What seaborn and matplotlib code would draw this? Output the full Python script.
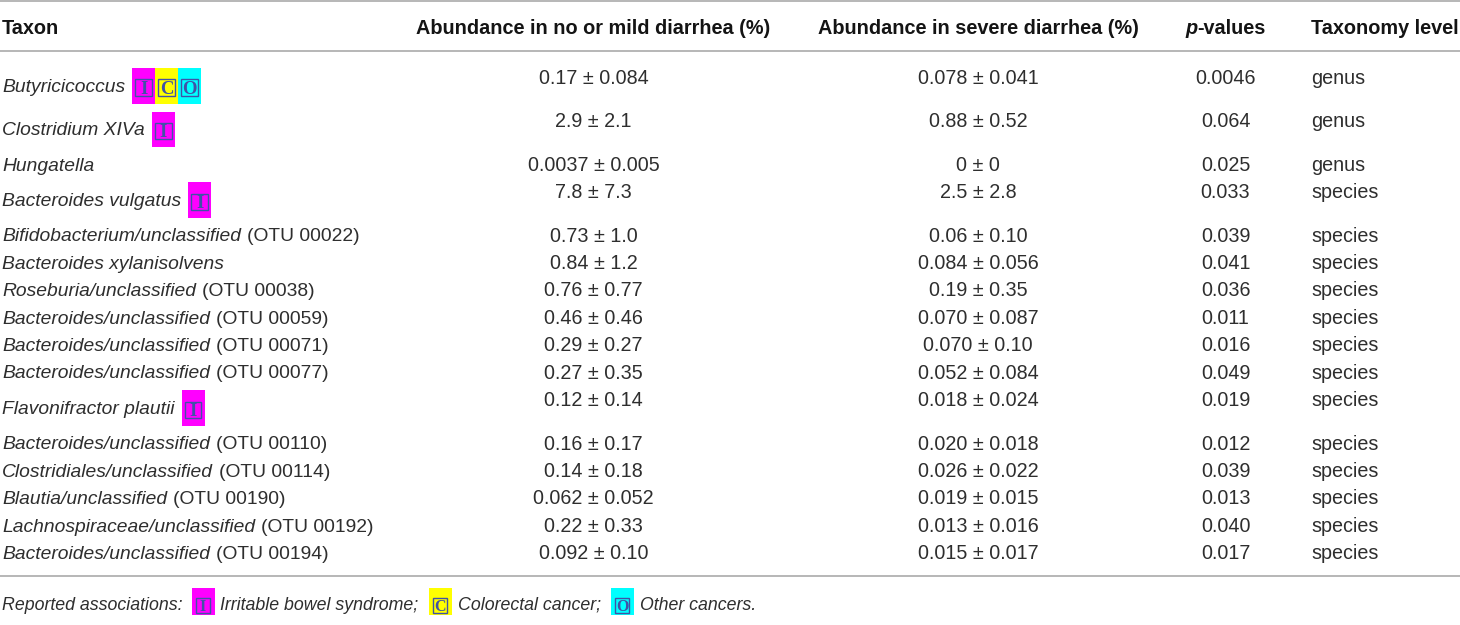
import matplotlib
matplotlib.use("Agg")
import matplotlib.pyplot as plt
import seaborn as sns
from matplotlib.patches import Rectangle

# ---------------- data ----------------
headers = ["Taxon", "Abundance in no or mild diarrhea (%)",
           "Abundance in severe diarrhea (%)", "p", "-values", "Taxonomy level"]
taxa_italic = ["Butyricicoccus", "Clostridium XIVa", "Hungatella", "Bacteroides vulgatus",
               "Bifidobacterium/unclassified", "Bacteroides xylanisolvens",
               "Roseburia/unclassified", "Bacteroides/unclassified",
               "Bacteroides/unclassified", "Bacteroides/unclassified",
               "Flavonifractor plautii", "Bacteroides/unclassified",
               "Clostridiales/unclassified", "Blautia/unclassified",
               "Lachnospiraceae/unclassified", "Bacteroides/unclassified"]
taxa_otu = ["", "", "", "", "(OTU 00022)", "", "(OTU 00038)", "(OTU 00059)",
            "(OTU 00071)", "(OTU 00077)", "", "(OTU 00110)", "(OTU 00114)",
            "(OTU 00190)", "(OTU 00192)", "(OTU 00194)"]
mild = ["0.17 ± 0.084", "2.9 ± 2.1", "0.0037 ± 0.005", "7.8 ± 7.3", "0.73 ± 1.0",
        "0.84 ± 1.2", "0.76 ± 0.77", "0.46 ± 0.46", "0.29 ± 0.27", "0.27 ± 0.35",
        "0.12 ± 0.14", "0.16 ± 0.17", "0.14 ± 0.18", "0.062 ± 0.052",
        "0.22 ± 0.33", "0.092 ± 0.10"]
severe = ["0.078 ± 0.041", "0.88 ± 0.52", "0 ± 0", "2.5 ± 2.8", "0.06 ± 0.10",
          "0.084 ± 0.056", "0.19 ± 0.35", "0.070 ± 0.087", "0.070 ± 0.10",
          "0.052 ± 0.084", "0.018 ± 0.024", "0.020 ± 0.018", "0.026 ± 0.022",
          "0.019 ± 0.015", "0.013 ± 0.016", "0.015 ± 0.017"]
pvals = ["0.0046", "0.064", "0.025", "0.033", "0.039", "0.041", "0.036", "0.011",
         "0.016", "0.049", "0.019", "0.012", "0.039", "0.013", "0.040", "0.017"]
levels = ["genus", "genus", "genus"] + ["species"] * 13
associations = ["ICO", "I", "", "I", "", "", "", "", "", "", "I", "", "", "", "", ""]
assoc_letters = ["I", "C", "O"]
assoc_names = ["Irritable bowel syndrome;", "Colorectal cancer;", "Other cancers."]
assoc_colors = ["#ff00ff", "#ffff00", "#00ffff"]
footnote_lead = "Reported associations:"

# ---------------- style ----------------
W, H = 1460, 625
FAM = ["Liberation Sans", "DejaVu Sans"]
TXT = "#2e2e2e"
HDR = "#141414"
RULE = "#a3a3a3"
BLUE = "#4152a6"
FS = 14.2      # values
TFS = 13.9     # taxa
HFS = 14.3     # header
NFS = 12.8     # footnote

sns.set_theme(style="white")
plt.rcParams["font.family"] = FAM

fig = plt.figure(figsize=(W / 100, H / 100), dpi=100)
ax = fig.add_axes([0, 0, 1, 1])
ax.set_xlim(0, W)
ax.set_ylim(H, 0)
ax.axis("off")
renderer = fig.canvas.get_renderer()


def base(yc, size):
    return yc + 0.35 * size * 100 / 72


def txt(x, yc, s, size=FS, **kw):
    kw.setdefault("color", TXT)
    return ax.text(x, base(yc, size), s, fontsize=size, va="baseline", **kw)


def right_of(t):
    bb = t.get_window_extent(renderer)
    return ax.transData.inverted().transform((bb.x1, bb.y1))[0]


def width_of(t):
    return t.get_window_extent(renderer).width


BW = 23


def badge(x, yc, letter, color, h, inner, inner_bottom, lsize):
    ax.add_patch(Rectangle((x, yc - h / 2), BW, h, facecolor=color,
                           edgecolor="none", zorder=2))
    bottom = yc + h / 2 - inner_bottom
    ax.add_patch(Rectangle((x + (BW - inner) / 2, bottom - inner), inner, inner,
                           facecolor="none", edgecolor=BLUE, lw=1.0, zorder=3))
    ax.text(x + BW / 2, bottom - inner / 2 + 0.33 * lsize * 100 / 72, letter,
            ha="center", va="baseline", fontsize=lsize, family="Liberation Serif",
            weight="bold", color=BLUE, zorder=4)
    return x + BW


# ---------------- rules ----------------
for yl in (1, 51, 575.7):
    ax.axhline(yl, color=RULE, lw=1.1)

# ---------------- header ----------------
HY = 27
col2, col3, col4, col5 = 593.5, 978, 1225.5, 1311
txt(2, HY, headers[0], HFS, weight="bold", color=HDR)
txt(col2, HY, headers[1], HFS, weight="bold", color=HDR, ha="center")
txt(col3, HY, headers[2], HFS, weight="bold", color=HDR, ha="center")
tp = txt(0, HY, headers[3], HFS, weight="bold", style="italic", color=HDR)
tv = txt(0, HY, headers[4], HFS, weight="bold", color=HDR)
wp, wv = width_of(tp), width_of(tv)
x0 = col4 - (wp + wv) / 2
tp.set_x(x0)
tv.set_x(x0 + wp)
txt(col5, HY, headers[5], HFS, weight="bold", color=HDR)

# ---------------- body ----------------
row_step, badge_extra, y = 27.4, 16.1, 76.8
for i in range(len(taxa_italic)):
    has_badge = bool(associations[i])
    ty = y + (8 if has_badge else 0)
    t = txt(2, ty, taxa_italic[i], TFS, style="italic")
    xr = right_of(t)
    if taxa_otu[i]:
        t2 = txt(xr + 6, ty, taxa_otu[i], TFS)
        xr = right_of(t2)
    if has_badge:
        bx = xr + 7
        for letter in associations[i]:
            k = assoc_letters.index(letter)
            bx = badge(bx, ty + 1, letter, assoc_colors[k], 35.5, 16.5, 7.6, 13.5)
    txt(col2, y, mild[i], ha="center")
    txt(col3, y, severe[i], ha="center")
    txt(col4, y, pvals[i], ha="center")
    txt(col5, y, levels[i])
    y += row_step + (badge_extra if has_badge else 0)

# ---------------- footnote ----------------
FY = 603.3
t = txt(2, FY, footnote_lead, NFS, style="italic")
x = right_of(t) + 9
for letter, name, color in zip(assoc_letters, assoc_names, assoc_colors):
    x = badge(x, FY - 1.6, letter, color, 27, 14.5, 2.2, 11.5)
    t = txt(x + 6, FY, name, NFS, style="italic")
    x = right_of(t) + 10

fig.savefig("out.png", dpi=100, facecolor="white")
